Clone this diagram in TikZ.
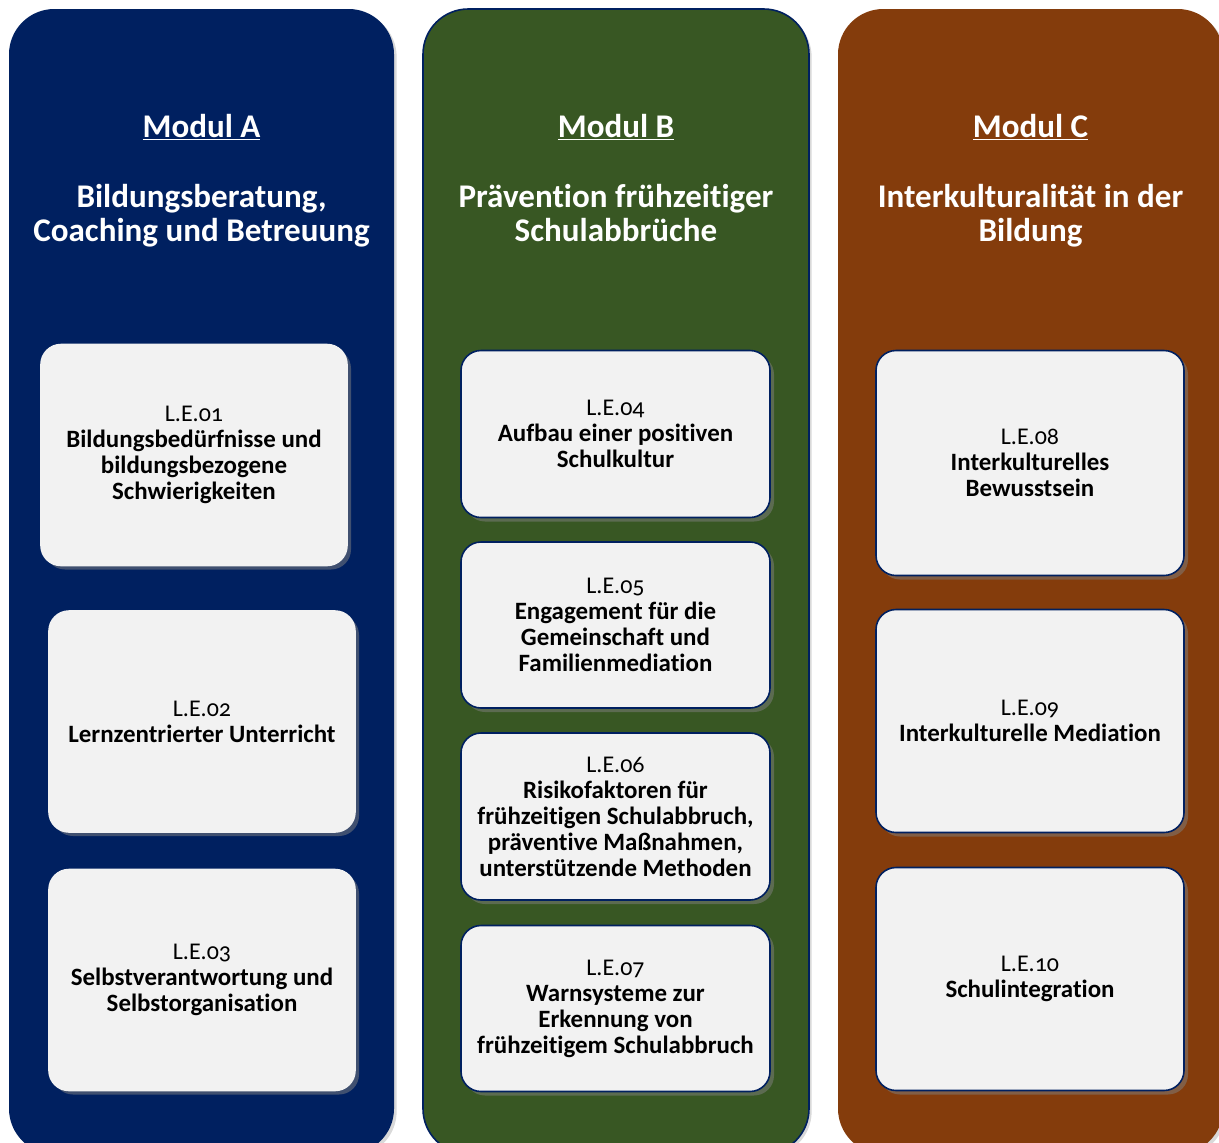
\documentclass[tikz,border=0pt]{standalone}
\usepackage{fontspec}
\setmainfont{Carlito}[Numbers=OldStyle,Ligatures=NoCommon]
\usetikzlibrary{shadows}
\definecolor{navy}{HTML}{002060}
\definecolor{modgreen}{HTML}{385723}
\definecolor{modbrown}{HTML}{843C0C}
\definecolor{cardgray}{HTML}{F2F2F2}
\newcommand\lbl[1]{{\fontsize{18}{19.5}\selectfont\mdseries #1}}
\tikzset{
  panel/.style={rounded corners=34pt, inner sep=0pt,
    drop shadow={shadow xshift=2pt, shadow yshift=-2pt, opacity=0.3}},
  modtitle/.style={text=white, font=\fontsize{24.8}{25.5}\selectfont\bfseries, align=center},
  card/.style={fill=cardgray, draw=navy, line width=1.2pt, rounded corners=15pt,
    align=center, inner sep=2pt, text=black,
    font=\fontsize{18.7}{19.5}\selectfont\bfseries,
    drop shadow={shadow xshift=3pt, shadow yshift=-3pt, opacity=0.5}},
  cardA/.style={card, draw=cardgray}
}
\begin{document}
\begin{tikzpicture}[x=0.75pt,y=-0.75pt]
\useasboundingbox (0,0) rectangle (1219,1142);
% panels
\node[panel, fill=navy, minimum width=385*0.75pt, minimum height=1145*0.75pt] (pa) at (201.5,581.5) {};
\node[panel, fill=modgreen, draw=navy, line width=1.2pt, minimum width=386*0.75pt, minimum height=1145*0.75pt] (pb) at (616,581.5) {};
\node[panel, fill=modbrown, minimum width=385*0.75pt, minimum height=1145*0.75pt] (pc) at (1030.5,581.5) {};
% titles
\node[modtitle] (ta) at (201.5,127) {\underline{Modul A}};
\node[modtitle] (sa) at (201.5,216) {Bildungsberatung,\\Coaching und Betreuung};
\node[modtitle] (tb) at (616,127) {\underline{Modul B}};
\node[modtitle] (sb) at (616,213.5) {Prävention frühzeitiger\\Schulabbrüche};
\node[modtitle] (tc) at (1030.5,127) {\underline{Modul C}};
\node[modtitle] (sc) at (1030.5,216) {Interkulturalität in der\\Bildung};
% module A cards
\node[cardA, minimum width=306*0.75pt, minimum height=221*0.75pt] (a1) at (194,455)
  {\lbl{L.E.01}\\Bildungsbedürfnisse und\\bildungsbezogene\\Schwierigkeiten};
\node[cardA, minimum width=306*0.75pt, minimum height=221*0.75pt] (a2) at (202,721.5)
  {\lbl{L.E.02}\\Lernzentrierter Unterricht};
\node[cardA, minimum width=306*0.75pt, minimum height=221*0.75pt] (a3) at (202,980)
  {\lbl{L.E.03}\\Selbstverantwortung und\\Selbstorganisation};
% module B cards
\node[card, minimum width=309*0.75pt, minimum height=167*0.75pt] (b1) at (615.5,434)
  {\lbl{L.E.04}\\Aufbau einer positiven\\Schulkultur};
\node[card, minimum width=309*0.75pt, minimum height=166*0.75pt] (b2) at (615.5,625)
  {\lbl{L.E.05}\\Engagement für die\\Gemeinschaft und\\Familienmediation};
\node[card, minimum width=309*0.75pt, minimum height=167*0.75pt] (b3) at (615.5,816.5)
  {\lbl{L.E.06}\\Risikofaktoren für\\frühzeitigen Schulabbruch,\\präventive Maßnahmen,\\unterstützende Methoden};
\node[card, minimum width=309*0.75pt, minimum height=166*0.75pt] (b4) at (615.5,1008.5)
  {\lbl{L.E.07}\\Warnsysteme zur\\Erkennung von\\frühzeitigem Schulabbruch};
% module C cards
\node[card, minimum width=308*0.75pt, minimum height=225*0.75pt] (c1) at (1030,463)
  {\lbl{L.E.08}\\Interkulturelles\\Bewusstsein};
\node[card, minimum width=308*0.75pt, minimum height=223*0.75pt] (c2) at (1030,721)
  {\lbl{L.E.09}\\Interkulturelle Mediation};
\node[card, minimum width=308*0.75pt, minimum height=223*0.75pt] (c3) at (1030,979)
  {\lbl{L.E.10}\\Schulintegration};
\end{tikzpicture}
\end{document}
